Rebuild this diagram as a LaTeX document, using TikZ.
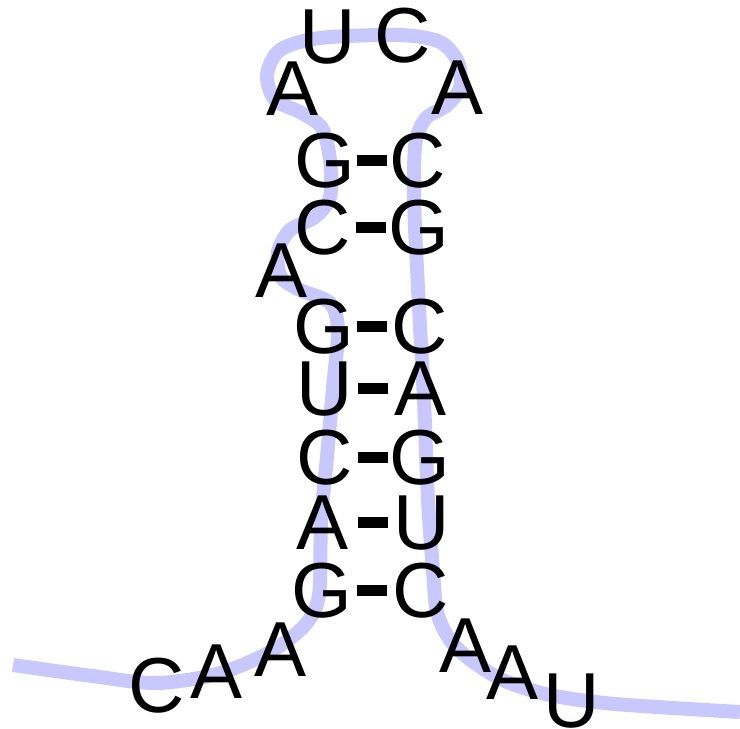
\documentclass[tikz,border=0pt]{standalone}
\usepackage{fontspec}
\setmainfont{Liberation Sans}
\usetikzlibrary{positioning}
\definecolor{backbonecol}{RGB}{200,200,255}
\tikzstyle{nt} = [inner sep=0pt, text height=55pt, text depth=0pt, font=\fontsize{78}{80}\selectfont]
\tikzstyle{pairbond} = [fill=black, rectangle, inner sep=0pt, minimum width=30pt, minimum height=11pt]
\tikzstyle{backbone} = [draw=backbonecol, line width=14pt, line join=round]

\begin{document}
\begin{tikzpicture}[x=1pt,y=-1pt]
  \useasboundingbox (0,0) rectangle (740,729);
  % free ends of the strand
  \coordinate (tail5) at (13,665);
  \coordinate (tail3) at (740,712);
  \draw[backbone] plot[smooth, tension=0.5] coordinates {(tail5) (85,675) (155,683) (217,674)
    (270,652) (305,625) (319,595) (321,522) (327,457) (333,388) (338,330) (330,303) (300,290)
    (281,277) (278,252) (290,230) (315,217) (330,197) (330,160) (322,128) (300,112) (275,100)
    (267,75) (280,50) (320,38) (400,35) (440,42) (458,62) (460,88) (446,106) (426,118)
    (416,140) (414,175) (415,227) (420,326) (424,400) (428,500) (433,570) (437,612) (450,640)
    (472,661) (505,681) (550,695) (615,704) (tail3)};
  % 5' tail
  \node[nt] (n1) at (157,685) {C};
  \node[nt] (n2) at (217,671) {A};
  \node[nt] (n3) at (281,649) {A};
  % left strand
  \node[nt] (n4) at (322,590) {G};
  \node[nt] (n5) at (323,522) {A};
  \node[nt] (n6) at (325,457) {C};
  \node[nt] (n7) at (325,388) {U};
  \node[nt] (n8) at (324,326) {G};
  \node[nt] (n9) at (282,270) {A};
  \node[nt] (n10) at (323,227) {C};
  \node[nt] (n11) at (325,160) {G};
  % loop
  \node[nt] (n12) at (293,88) {A};
  \node[nt] (n13) at (328,36) {U};
  \node[nt] (n14) at (403,35) {C};
  \node[nt] (n15) at (458,87) {A};
  % right strand
  \node[nt] (n16) at (418,160) {C};
  \node[nt] (n17) at (419,227) {G};
  \node[nt] (n18) at (420,326) {C};
  \node[nt] (n19) at (421,388) {A};
  \node[nt] (n20) at (420,457) {G};
  \node[nt] (n21) at (422,522) {U};
  \node[nt] (n22) at (421,590) {C};
  % 3' tail
  \node[nt] (n23) at (466,645) {A};
  \node[nt] (n24) at (513,672) {A};
  \node[nt] (n25) at (572,700) {U};
  % base pairs
  \foreach \l/\r in {n4/n22, n5/n21, n6/n20, n7/n19, n8/n18, n10/n17, n11/n16}
    \path (\l.center) -- (\r.center) node[midway, pairbond] {};
\end{tikzpicture}
\end{document}
